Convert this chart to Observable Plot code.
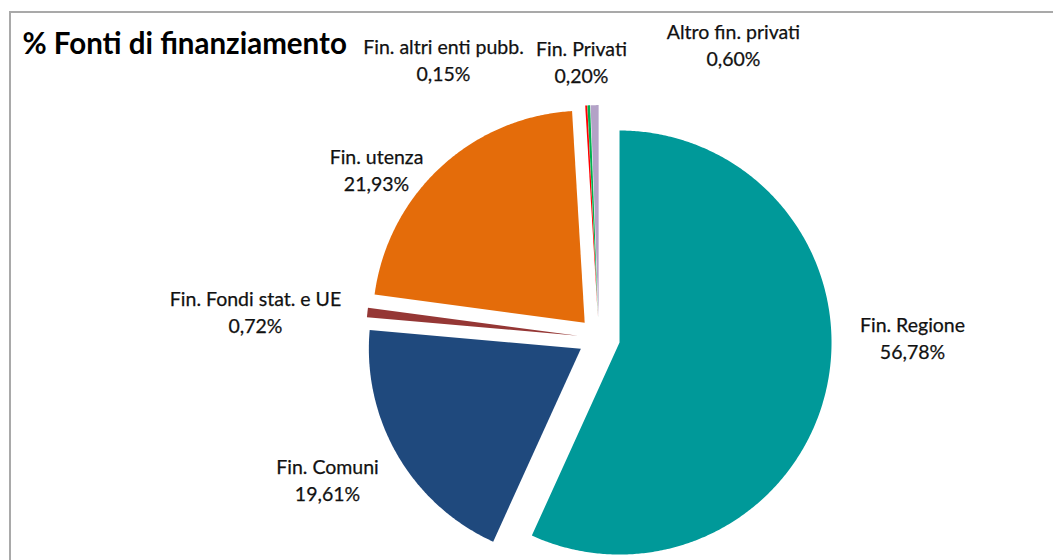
<!DOCTYPE html>
<html>
<head>
<meta charset="utf-8">
<script src="https://cdn.jsdelivr.net/npm/d3@7"></script>
<script src="https://cdn.jsdelivr.net/npm/@observablehq/plot@0.6"></script>
<style>
  html, body { margin: 0; padding: 0; background: #fff; }
  #wrap { position: relative; width: 1053px; height: 560px; overflow: hidden; }
  #frame { position: absolute; left: 9px; top: 11px; width: 1100px; height: 600px;
           border-top: 2px solid #a9a9a9; border-left: 2px solid #a9a9a9; box-sizing: border-box; }
  #chart { position: absolute; left: 0; top: 0; }
</style>
</head>
<body>
<div id="wrap"><div id="frame"></div><div id="chart"></div></div>
<script>
// ---- data ----
const categories = ["Fin. Regione", "Fin. Comuni", "Fin. Fondi stat. e UE", "Fin. utenza",
                    "Fin. altri enti pubb.", "Fin. Privati", "Altro fin. privati"];
const shares = [56.78, 19.61, 0.72, 21.93, 0.15, 0.20, 0.60];
const title = "% Fonti di finanziamento";

// ---- style / layout ----
const palette = ["#009999", "#1f497d", "#953735", "#e46c0a", "#ff0000", "#00b050", "#b3a2c7"];
const W = 1053, H = 560;
const cx = 598.5, cy = 337.6, R = 212, explode = 21;
// label anchor positions (pixels) for each category, in the same order
const labelX = [912, 327, 255, 376, 443, 581, 733];
const labelY = [336, 478, 310, 168, 58, 60, 43];

const fmt = v => v.toFixed(2).replace(".", ",") + "%";

// build slice polygons from the data via d3.pie
const arcs = d3.pie().sort(null).value(d => d)(shares);
const pts = [];
arcs.forEach((a, i) => {
  const mid = (a.startAngle + a.endAngle) / 2;
  const ox = cx + explode * Math.sin(mid), oy = cy - explode * Math.cos(mid);
  const n = Math.max(2, Math.ceil((a.endAngle - a.startAngle) / (Math.PI / 360)));
  pts.push({cat: categories[i], x: ox, y: oy});
  for (let k = 0; k <= n; k++) {
    const t = a.startAngle + (a.endAngle - a.startAngle) * k / n;
    pts.push({cat: categories[i], x: ox + R * Math.sin(t), y: oy - R * Math.cos(t)});
  }
  pts.push({cat: categories[i], x: ox, y: oy});
});

const labels = categories.map((c, i) => ({text: c + "\n" + fmt(shares[i]), x: labelX[i], y: labelY[i]}));

const chart = Plot.plot({
  width: W, height: H,
  margin: 0,
  x: {domain: [0, W], range: [0, W], axis: null},
  y: {domain: [0, H], range: [0, H], axis: null},
  color: {domain: categories, range: palette},
  style: {background: "transparent", fontFamily: "Lato, 'Liberation Sans', sans-serif"},
  marks: [
    Plot.line(pts, {x: "x", y: "y", z: "cat", fill: "cat", stroke: "none", curve: "linear-closed"}),
    Plot.text(labels, {x: "x", y: "y", text: "text", fontSize: 19.5, lineHeight: 1.38,
                        fill: "#111", stroke: "#111", strokeWidth: 0.25, textAnchor: "middle"}),
    Plot.text([title], {x: () => 22, y: () => 44, text: d => d, fontSize: 29.5, fontWeight: "bold",
                        fill: "#000", textAnchor: "start"})
  ]
});
document.getElementById("chart").appendChild(chart);
</script>
</body>
</html>
